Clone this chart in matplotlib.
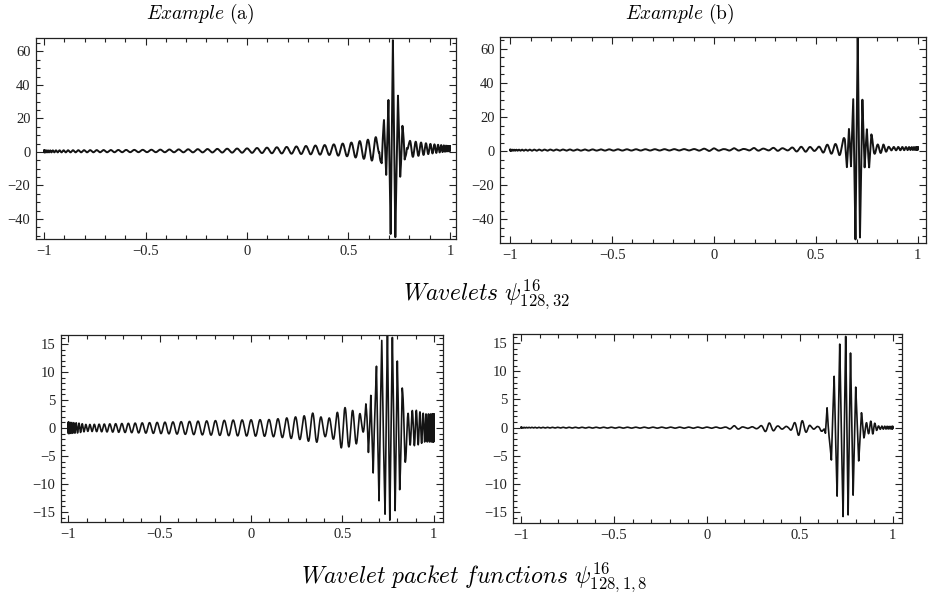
import numpy as np
import matplotlib.pyplot as plt
from matplotlib.ticker import AutoMinorLocator

plt.rcParams['mathtext.fontset'] = 'cm'
plt.rcParams['font.family'] = ['Liberation Serif', 'DejaVu Serif']

# tick labels
x_ticks = [-1, -0.5, 0, 0.5, 1]
x_labels = ['\u22121', '\u22120.5', '0', '0.5', '1']
top_yticks = [-40, -20, 0, 20, 40, 60]
bot_yticks = [-15, -10, -5, 0, 5, 10, 15]

# carrier: oscillation count over [0, pi] in theta = arccos(x)
carrier_k = 128

# --- Example (a), wavelet: background envelope, offset and central burst
wa_env_x = [-1.0, -0.5, -0.2, 0.0, 0.2, 0.4, 0.5, 0.6, 0.65, 0.68, 0.7, 0.74, 0.76, 0.8, 0.9, 1.0]
wa_env_y = [0.6, 0.7, 1.0, 1.3, 2.0, 3.0, 4.0, 6.0, 8.0, 5.0, 1.5, 1.5, 6.0, 5.0, 3.0, 1.5]
wa_off_x = [-1.0, 0.0, 0.7, 1.0]
wa_off_y = [0.3, 0.8, 1.5, 2.0]
wa_burst_x = [0.640, 0.652, 0.664, 0.675, 0.686, 0.697, 0.708, 0.719, 0.731, 0.744, 0.755, 0.766, 0.777, 0.788, 0.800]
wa_burst_y = [0, 6, -10, 13, -12, 30, -52, 66, -52, 30, -12, 13, -10, 6, 0]

# --- Example (b), wavelet
wb_env_x = [-1.0, -0.1, 0.0, 0.05, 0.1, 0.15, 0.2, 0.25, 0.3, 0.35, 0.4, 0.45, 0.5,
            0.55, 0.6, 0.65, 0.68, 0.7, 0.73, 0.76, 0.8, 0.83, 0.86, 0.9, 1.0]
wb_env_y = [0.3, 0.4, 0.8, 0.3, 0.8, 0.3, 0.9, 0.4, 1.0, 0.5, 1.3, 1.5, 1.0,
            2.5, 3.0, 5.0, 2.0, 1.5, 1.5, 4.0, 2.5, 2.5, 1.0, 1.0, 0.8]
wb_off_x = [-1.0, 0.0, 1.0]
wb_off_y = [0.5, 0.8, 1.5]
wb_burst_x = [0.630, 0.642, 0.652, 0.662, 0.672, 0.683, 0.694, 0.705, 0.716, 0.728, 0.739, 0.750, 0.761, 0.772, 0.784]
wb_burst_y = [0, 4, -6, 12, -13, 30, -52, 65, -52, 30, -13, 12, -8, 5, 0]

# --- Example (a), wavelet packet
pa_env_x = [-1.0, -0.95, -0.9, -0.7, -0.5, -0.3, -0.1, 0.1, 0.2, 0.3, 0.35, 0.4, 0.45,
            0.5, 0.55, 0.6, 0.65, 0.75, 0.82, 0.86, 0.9, 0.95, 1.0]
pa_env_y = [1.0, 0.9, 0.6, 0.8, 1.0, 1.2, 1.4, 1.5, 1.8, 2.2, 2.8, 1.5, 2.0,
            3.8, 3.2, 2.5, 2.0, 1.5, 2.0, 3.0, 3.2, 2.5, 2.5]
pa_off_x = [-1.0, 1.0]
pa_off_y = [0.0, 0.0]
pa_burst_x = [0.600, 0.628, 0.642, 0.655, 0.668, 0.686, 0.700, 0.715, 0.733, 0.746,
              0.759, 0.773, 0.788, 0.800, 0.813, 0.827, 0.842, 0.860]
pa_burst_y = [0, 3.2, -5, 7.7, -9.6, 12.5, -13.5, 15.4, -15.5, 16,
              -15, 14.5, -13, 10.5, -10, 6, -4, 0]

# --- Example (b), wavelet packet
pb_env_x = [-1.0, 0.1, 0.15, 0.2, 0.28, 0.33, 0.38, 0.44, 0.5, 0.56, 0.6, 0.63,
            0.82, 0.86, 0.89, 0.92, 1.0]
pb_env_y = [0.05, 0.1, 0.35, 0.1, 0.2, 0.9, 0.3, 0.2, 1.5, 0.3, 0.2, 1.0,
            0.5, 1.0, 1.2, 0.3, 0.2]
pb_off_x = [-1.0, 1.0]
pb_off_y = [0.0, 0.0]
pb_burst_x = [0.620, 0.638, 0.647, 0.670, 0.685, 0.701, 0.715, 0.733, 0.747,
              0.760, 0.773, 0.787, 0.801, 0.817, 0.832, 0.845, 0.860]
pb_burst_y = [0, -1.8, 4.0, -6.6, 9.7, -12.5, 14.7, -15.8, 15.9,
              -14.9, 12.6, -11.4, 6.7, -5.4, 2.0, -1.0, 0]

x = np.linspace(-1, 1, 30001)
theta = np.arccos(np.clip(x, -1, 1))


def curve(env_x, env_y, off_x, off_y, burst_x, burst_y):
    env = np.interp(x, env_x, env_y)
    off = np.interp(x, off_x, off_y)
    burst = np.interp(x, burst_x, burst_y, left=0, right=0)
    return off + env * np.cos(carrier_k * theta) + burst


fig = plt.figure(figsize=(9.3, 6.01), dpi=100)

panels = [
    ([36 / 930, 1 - 239 / 601, 420 / 930, 201 / 601], (-1.04, 1.03), (-52, 68),
     top_yticks, 4, 1.4, curve(wa_env_x, wa_env_y, wa_off_x, wa_off_y, wa_burst_x, wa_burst_y)),
    ([500 / 930, 1 - 243 / 601, 426 / 930, 206 / 601], (-1.05, 1.04), (-54, 67),
     top_yticks, 4, 1.4, curve(wb_env_x, wb_env_y, wb_off_x, wb_off_y, wb_burst_x, wb_burst_y)),
    ([61 / 930, 1 - 522 / 601, 382 / 930, 187 / 601], (-1.04, 1.05), (-16.8, 16.6),
     bot_yticks, 5, 1.2, curve(pa_env_x, pa_env_y, pa_off_x, pa_off_y, pa_burst_x, pa_burst_y)),
    ([513 / 930, 1 - 523 / 601, 389 / 930, 189 / 601], (-1.043, 1.05), (-16.9, 16.6),
     bot_yticks, 5, 1.2, curve(pb_env_x, pb_env_y, pb_off_x, pb_off_y, pb_burst_x, pb_burst_y)),
]

for rect, xl, yl, yt, ymin, lw, y in panels:
    ax = fig.add_axes(rect)
    ax.plot(x, y, color='#141414', lw=lw)
    ax.set_xlim(xl)
    ax.set_ylim(yl)
    ax.set_xticks(x_ticks)
    ax.set_xticklabels(x_labels)
    ax.set_yticks(yt)
    ax.xaxis.set_minor_locator(AutoMinorLocator(5))
    ax.yaxis.set_minor_locator(AutoMinorLocator(ymin))
    ax.tick_params(which='both', direction='in', top=True, right=True,
                   width=0.8, labelsize=10.5, pad=4, colors='#222222')
    ax.tick_params(which='major', length=5)
    ax.tick_params(which='minor', length=3)
    for s in ax.spines.values():
        s.set_linewidth(0.9)
        s.set_color('#222222')

fig.text(200 / 930, 1 - 14 / 601, r'$Example\ (\mathrm{a})$', ha='center', va='center', fontsize=14)
fig.text(680 / 930, 1 - 14 / 601, r'$Example\ (\mathrm{b})$', ha='center', va='center', fontsize=14)
fig.text(487 / 930, 1 - 295 / 601, r'$Wavelets\ \psi^{16}_{128,32}$', ha='center', va='center', fontsize=17)
fig.text(474 / 930, 1 - 578 / 601, r'$Wavelet\ packet\ functions\ \psi^{16}_{128,1,8}$',
         ha='center', va='center', fontsize=17)

fig.savefig('out.png', dpi=100)
